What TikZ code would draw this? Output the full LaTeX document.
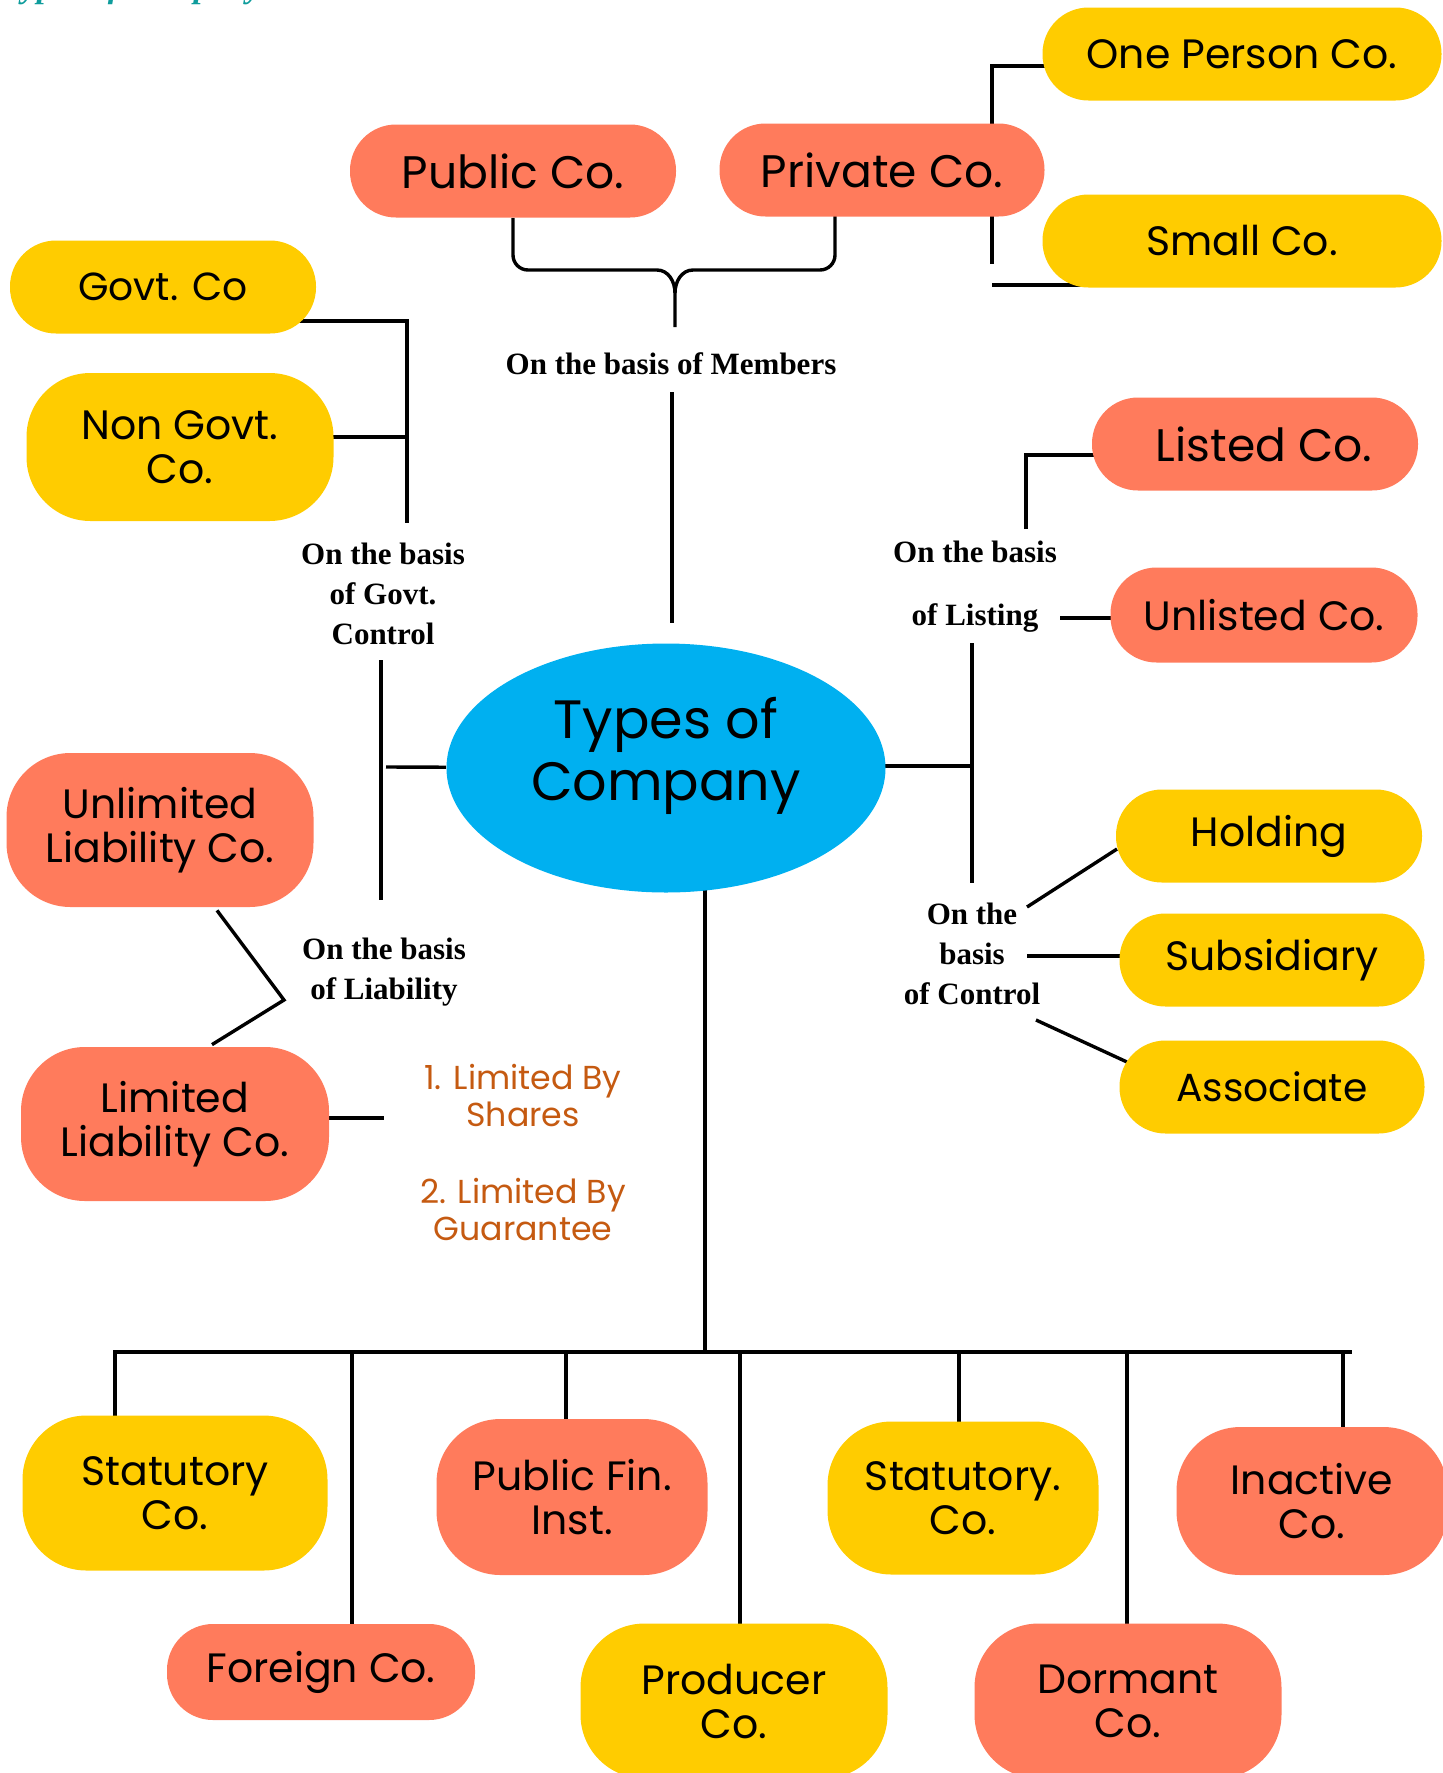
\documentclass[tikz,border=0pt]{standalone}
\usepackage{fontspec}
\setmainfont{Liberation Serif}
\newfontfamily\boxfont{Poppins}
\usetikzlibrary{calc,backgrounds,shapes.geometric}

\definecolor{salmon}{HTML}{FF7B5C}
\definecolor{gold}{HTML}{FFCC00}
\definecolor{sky}{HTML}{00B0F0}
\definecolor{rust}{HTML}{C55A11}
\definecolor{titleteal}{HTML}{0E9C9C}

\tikzset{
  conn/.style={line width=1.7pt},
  busline/.style={line width=2.4pt},
  pill/.style={rounded corners=23pt, minimum height=46.5pt, align=center,
    font=\boxfont\fontsize{20.5}{22}\selectfont},
  tall/.style={pill, rounded corners=32pt, minimum height=77pt},
  coral/.style={fill=salmon},
  yell/.style={fill=gold},
  big/.style={font=\boxfont\fontsize{22.8}{26}\selectfont},
  small/.style={font=\boxfont\fontsize{19.6}{22}\selectfont},
  basis/.style={font=\bfseries\fontsize{15.5}{20}\selectfont, align=center},
  note/.style={text=rust, font=\boxfont\fontsize{16.6}{18.5}\selectfont, align=center},
}

\begin{document}
\begin{tikzpicture}[x=0.5pt,y=-0.5pt,inner sep=0pt]
\useasboundingbox (0,0) rectangle (1443,1773);

\begin{scope}
\clip (0,0) rectangle (1443,60);
\node (title) [anchor=base west, text=titleteal, font=\bfseries\itshape\fontsize{17}{20}\selectfont] at (2,-3) {Types of Company};
\end{scope}

\node (ell) [ellipse, fill=sky, minimum width=219.5pt, minimum height=124.5pt,
  font=\boxfont\fontsize{27}{31}\selectfont] at (666,768)
  {\raisebox{0pt}[\height][\dimexpr\depth+11pt\relax]{\begin{tabular}{@{}c@{}}Types of\\Company\end{tabular}}};

\node (one) [pill,yell,minimum width=199.5pt] at (1242,54) {One Person Co.};
\node (small) [pill,yell,minimum width=199.5pt] at (1242,241) {Small Co.};
\node (pub) [pill,coral,big,minimum width=163pt] at (513,171) {Public Co.};
\node (priv) [pill,coral,big,minimum width=162.5pt] at (882,170) {Private Co.};
\node (gco) [pill,yell,small,minimum width=153pt] at (163,287) {Govt. Co};
\node (ngco) [tall,yell,minimum width=153.5pt,minimum height=74pt] at (180,447) {Non Govt.\\Co.};
\node (lst) [pill,coral,big,minimum width=163pt] at (1255,444) {\hspace{9pt}Listed Co.};
\node (unlst) [pill,coral,minimum width=153.5pt,minimum height=47.5pt] at (1264,615) {Unlisted Co.};
\node (unl) [tall,coral,minimum width=153.5pt] at (160,830) {Unlimited\\Liability Co.};
\node (lim) [tall,coral,minimum width=154pt] at (175,1124) {Limited\\Liability Co.};
\node (hold) [pill,yell,minimum width=153pt] at (1269,836) {Holding};
\node (sub) [pill,yell,minimum width=152.5pt] at (1272,960) {Subsidiary};
\node (assoc) [pill,yell,small,minimum width=152.5pt] at (1272,1087) {Associate};

\node (stat) [tall,yell,minimum width=152.5pt,minimum height=77.5pt] at (175,1493) {Statutory\\Co.};
\node (pfi) [tall,coral,minimum width=135.5pt,minimum height=78pt] at (572,1497) {Public Fin.\\Inst.};
\node (stat2) [tall,yell,minimum width=135.5pt,minimum height=76.5pt] at (963,1498) {Statutory.\\Co.};
\node (inact) [tall,coral,minimum width=135.5pt,minimum height=74pt] at (1312,1501) {Inactive\\Co.};
\node (forgn) [pill,coral,minimum width=154pt,minimum height=48pt] at (321,1672) {Foreign Co.};
\node (prod) [tall,yell,minimum width=153.5pt,minimum height=77.5pt] at (734,1701) {Producer\\Co.};
\node (dorm) [tall,coral,minimum width=153.5pt,minimum height=77.5pt] at (1128,1701) {Dormant\\Co.};

\node (memb) [basis] at (671,364) {On the basis of Members};
\node (gctl) [basis] at (383,594) {On the basis\\of Govt.\\Control};
\node (lstb) [basis] at (975,587) {On the basis\\[11.5pt]of Listing};
\node (ctrl) [basis] at (972,954) {On the\\basis\\of Control};
\node (liab) [basis] at (384,972) {On the basis\\of Liability};
\node (shr) [note] at (523,1095) {1. Limited By\\Shares};
\node (guar) [note] at (523,1210) {2. Limited By\\Guarantee};

\begin{scope}[on background layer]
% members
\draw[conn] (pub) -- (513,255) to[out=-90,in=180] (528,270) -- (657,270) to[out=0,in=90] (675,293) -- (675,327);
\draw[conn] (priv -| 835,0) -- (835,255) to[out=-90,in=0] (820,270) -- (693,270) to[out=180,in=90] (675,293);
\draw[conn] ($(memb.south)+(1,17)$) -- ($(ell.north)+(6,-20)$);
\coordinate (pj) at (992,66);
\draw[conn] (priv -| pj) -- (pj) -- (one |- pj);
\draw[conn] (priv -| pj) -- (992,264);
\draw[conn] (992,285) -- (1081,285);

% govt. control
\coordinate (gj) at (407,321);
\draw[conn] (gco |- gj) -- (gj) -- (407,523);
\draw[conn] (ngco |- 407,437) -- (407,437);
\draw[conn] (381,660) -- (381,900);
\draw[conn] (386,767) -- (ell);

% liability
\coordinate (lv) at (284,1000);
\draw[conn] ($(unl.south)+(57,3)$) -- (lv) -- ($(lim.north)+(37,-2)$);
\draw[conn] (lim |- 384,1118) -- (384,1118);

% listing and control
\coordinate (lc) at (1026,455);
\draw[conn] (1026,529) -- (lc) -- (lst |- lc);
\draw[conn] (1060,618) -- (unlst |- 1060,618);
\coordinate (rj) at (972,766);
\draw[conn] (ell |- rj) -- (rj);
\draw[conn] (972,643) -- (972,883);
\draw[conn] (1027,907) -- (1117,849);
\draw[conn] (1027,956) -- (sub |- 1027,956);
\draw[conn] (1036,1020) -- (1127,1062);

% others
\coordinate (bj) at (705,1352);
\draw[conn] (ell -| bj) -- (bj);
\draw[busline] (113,1352) -- (1352,1352);
\foreach \nm/\dx in {stat/115, forgn/352, pfi/566, prod/740, stat2/959, dorm/1127, inact/1343}
  \draw[conn] (\dx,1352) -- (\nm -| \dx,0);
\end{scope}
\end{tikzpicture}
\end{document}
